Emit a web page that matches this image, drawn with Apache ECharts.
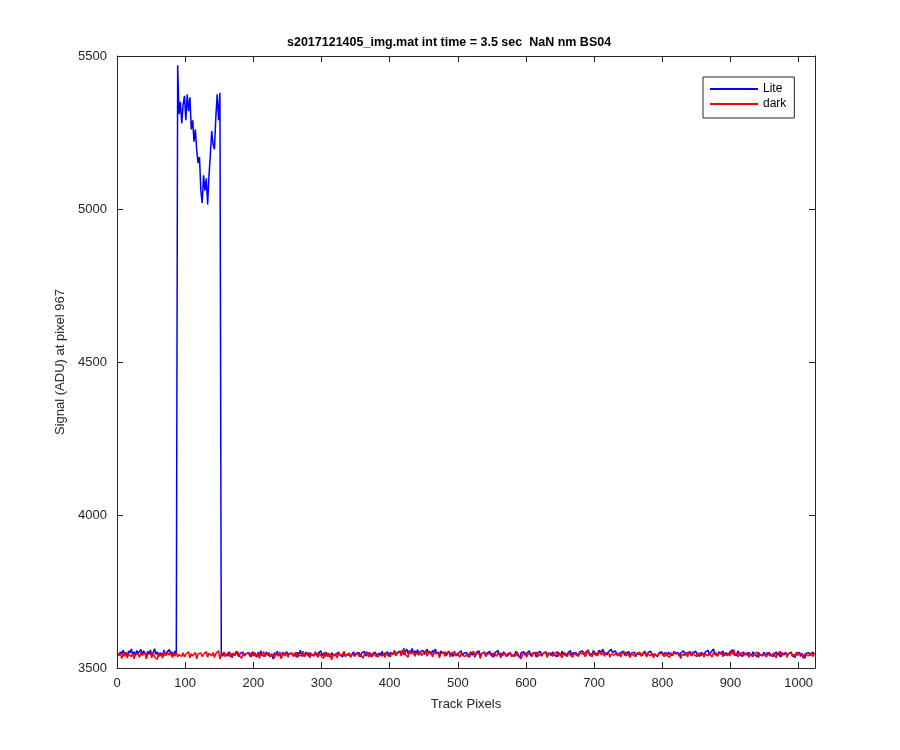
<!DOCTYPE html>
<html><head><meta charset="utf-8">
<script src="https://cdn.jsdelivr.net/npm/echarts@6/dist/echarts.min.js"></script>
<style>html,body{margin:0;padding:0;background:#fff}#c{width:900px;height:750px}</style>
</head><body><div id="c"></div><script>
const titleText = 's2017121405_img.mat int time = 3.5 sec  NaN nm BS04';
const xAxisName = 'Track Pixels';
const yAxisName = 'Signal (ADU) at pixel 967';
const seriesNames = ['Lite', 'dark'];
const firstPixel = 1, pixelStep = 2;
const xTicks = [0, 100, 200, 300, 400, 500, 600, 700, 800, 900, 1000];
const yTicks = [3500, 4000, 4500, 5000, 5500];

const lite = [
3548,3541,3553,3546,3558,3544,3551,3539,3556,3549,3562,3545,3553,3540,3557,3548,
3552,3561,3543,3556,3547,3538,3554,3546,3559,3542,3550,3563,3545,3553,3537,3549,
3555,3544,3558,3541,3551,3547,3560,3543,3552,3539,3556,3548,5470,5310,5350,5280,
5340,5370,5290,5375,5320,5365,5260,5290,5220,5260,5190,5150,5170,5060,5020,5110,
5060,5100,5015,5110,5180,5255,5210,5195,5300,5375,5290,5380,3547,3538,3552,3543,
3549,3540,3553,3536,3546,3551,3541,3555,3544,3537,3549,3543,3552,3539,3547,3541,
3550,3538,3545,3553,3540,3548,3535,3551,3543,3556,3541,3547,3538,3552,3544,3549,
3537,3546,3529,3550,3542,3555,3540,3547,3534,3552,3545,3539,3553,3546,3541,3548,
3554,3540,3549,3536,3551,3544,3558,3541,3547,3539,3552,3545,3538,3550,3543,3547,
3541,3553,3539,3548,3545,3556,3540,3549,3537,3551,3544,3546,3535,3550,3542,3548,
3545,3539,3552,3543,3548,3536,3554,3541,3547,3544,3550,3538,3546,3553,3540,3548,
3543,3551,3537,3549,3545,3554,3539,3547,3542,3550,3536,3548,3544,3552,3541,3546,
3549,3542,3555,3540,3548,3545,3553,3538,3551,3546,3544,3557,3541,3550,3547,3555,
3548,3559,3543,3553,3562,3546,3557,3550,3564,3545,3556,3549,3560,3543,3554,3548,
3557,3545,3552,3561,3547,3555,3543,3558,3550,3562,3546,3553,3541,3556,3549,3544,
3552,3540,3548,3555,3543,3550,3538,3547,3553,3541,3549,3545,3556,3539,3548,3543,
3551,3537,3546,3553,3542,3549,3535,3550,3544,3556,3540,3547,3543,3552,3538,3549,
3545,3554,3541,3548,3536,3551,3546,3557,3542,3549,3539,3553,3545,3550,3540,3547,
3552,3543,3549,3538,3555,3544,3547,3533,3550,3545,3553,3541,3548,3544,3556,3539,
3547,3542,3551,3536,3549,3545,3554,3540,3548,3543,3552,3538,3550,3546,3541,3553,
3544,3549,3537,3552,3546,3541,3555,3543,3550,3539,3548,3545,3557,3542,3549,3544,
3551,3546,3540,3553,3547,3556,3543,3550,3545,3559,3548,3552,3544,3557,3549,3554,
3546,3558,3551,3545,3560,3549,3555,3543,3553,3547,3561,3550,3544,3556,3548,3552,
3543,3550,3546,3555,3541,3549,3547,3553,3540,3548,3545,3552,3538,3547,3551,3544,
3549,3541,3553,3546,3539,3550,3544,3555,3542,3548,3546,3551,3537,3549,3545,3553,
3542,3550,3547,3539,3552,3545,3548,3541,3554,3546,3543,3551,3538,3549,3545,3556,
3547,3541,3550,3544,3553,3540,3548,3546,3555,3543,3549,3538,3551,3547,3544,3552,
3546,3558,3543,3551,3547,3562,3545,3549,3541,3553,3548,3544,3556,3540,3550,3546,
3543,3552,3547,3559,3544,3550,3541,3556,3546,3549,3538,3553,3545,3548,3542,3551,
3546,3540,3553,3545,3549,3537,3551,3544,3547,3541,3552,3539,3548,3545,3550,3543,
3549,3538,3546,3553,3541,3548,3536,3550,3545,3543,3551,3539,3547,3544,3552,3540,
3546,3535,3549,3543,3551,3538,3547,3553,3532,3548,3544,3550,3541,3547,3552,3545
];

const dark = [
3540,3535,3548,3531,3545,3538,3552,3533,3546,3541,3537,3549,3530,3544,3539,3547,
3534,3550,3541,3536,3553,3529,3545,3540,3548,3533,3551,3537,3543,3528,3549,3539,
3546,3532,3553,3540,3536,3549,3542,3555,3534,3547,3539,3551,3536,3544,3548,3538,
3550,3536,3545,3541,3553,3533,3547,3539,3544,3551,3530,3546,3542,3549,3537,3545,
3540,3554,3535,3548,3543,3539,3551,3534,3547,3542,3556,3529,3546,3540,3549,3536,
3544,3551,3538,3547,3533,3549,3542,3537,3553,3540,3546,3532,3550,3543,3538,3547,
3541,3549,3535,3545,3552,3538,3543,3547,3531,3548,3540,3554,3537,3545,3542,3550,
3536,3546,3541,3532,3549,3544,3538,3553,3530,3547,3543,3539,3551,3535,3546,3541,
3549,3537,3545,3552,3534,3543,3548,3539,3555,3536,3544,3541,3550,3533,3547,3542,
3538,3551,3543,3535,3548,3540,3546,3531,3552,3544,3537,3549,3541,3527,3546,3539,
3547,3533,3550,3542,3538,3545,3553,3536,3544,3540,3549,3534,3546,3551,3538,3543,
3550,3537,3544,3548,3532,3546,3541,3553,3535,3547,3543,3538,3551,3540,3545,3536,
3544,3549,3539,3546,3534,3552,3541,3547,3537,3550,3543,3556,3540,3548,3545,3553,
3539,3551,3565,3544,3548,3535,3556,3546,3541,3553,3538,3550,3547,3542,3555,3540,
3548,3543,3557,3538,3551,3545,3549,3536,3554,3546,3541,3550,3533,3547,3544,3552,
3538,3549,3543,3553,3536,3546,3541,3555,3539,3548,3544,3535,3551,3542,3547,3537,
3545,3550,3534,3548,3542,3554,3537,3546,3541,3549,3531,3547,3543,3552,3538,3545,
3540,3547,3553,3536,3549,3543,3538,3551,3544,3533,3548,3541,3550,3537,3546,3542,
3551,3536,3544,3548,3539,3553,3542,3547,3529,3545,3540,3550,3535,3546,3543,3549,
3537,3548,3542,3552,3536,3545,3550,3539,3547,3543,3554,3534,3546,3541,3549,3538,
3546,3540,3553,3537,3548,3544,3533,3551,3542,3547,3538,3555,3541,3546,3536,3550,
3543,3549,3538,3554,3545,3540,3551,3536,3547,3559,3542,3548,3537,3552,3544,3546,
3540,3553,3547,3542,3556,3538,3549,3544,3551,3535,3546,3552,3541,3548,3545,3539,
3550,3536,3546,3541,3553,3539,3548,3544,3534,3551,3542,3547,3537,3549,3543,3552,
3538,3547,3542,3555,3536,3546,3550,3540,3548,3533,3545,3551,3539,3546,3542,3549,
3544,3537,3552,3541,3547,3535,3550,3543,3539,3553,3546,3540,3548,3531,3545,3550,
3541,3548,3536,3551,3545,3539,3554,3542,3547,3537,3550,3544,3540,3549,3535,3546,
3552,3540,3547,3543,3536,3551,3545,3549,3538,3546,3542,3553,3537,3548,3544,3540,
3547,3539,3553,3545,3560,3541,3549,3536,3546,3543,3551,3538,3547,3542,3550,3535,
3543,3548,3537,3546,3541,3552,3534,3545,3549,3539,3547,3543,3536,3550,3541,3546,
3539,3550,3545,3533,3548,3542,3554,3537,3546,3540,3551,3535,3547,3543,3549,3538,
3545,3538,3552,3541,3536,3549,3544,3531,3547,3553,3540,3546,3542,3550,3537,3548
];

const toPairs = arr => arr.map((v, i) => [firstPixel + i * pixelStep, v]);
const FONT = 'Liberation Sans, Arial, Helvetica, sans-serif';
const AX = '#262626';

function boxAxis(isX, main) {
  const a = {
    type: 'value',
    min: isX ? 0 : yTicks[0],
    max: isX ? 1024 : yTicks[yTicks.length - 1],
    interval: isX ? 100 : 500,
    axisLine: { show: true, onZero: false, lineStyle: { color: AX, width: 1 } },
    axisTick: { show: true, inside: true, length: 6, lineStyle: { color: AX } },
    splitLine: { show: false },
    axisLabel: { show: main, margin: isX ? 9 : 10, color: '#262626', fontSize: 13, fontFamily: FONT,
      formatter: v => (isX ? xTicks : yTicks).includes(v) ? String(v) : '' }
  };
  if (isX) {
    a.position = main ? 'bottom' : 'top';
    if (main) {
      a.name = xAxisName; a.nameLocation = 'middle'; a.nameGap = 30;
      a.nameTextStyle = { fontSize: 13, color: '#262626', fontFamily: FONT };
    }
  } else {
    a.position = main ? 'left' : 'right';
    if (main) {
      a.name = yAxisName; a.nameLocation = 'middle'; a.nameGap = 46;
      a.nameTextStyle = { fontSize: 13, color: '#262626', fontFamily: FONT };
    }
  }
  return a;
}

const chart = echarts.init(document.getElementById('c'), null, { renderer: 'canvas' });
chart.setOption({
  animation: false,
  backgroundColor: '#fff',
  title: {
    text: titleText, left: 287, top: 36, padding: 0,
    textStyle: { fontSize: 12.5, fontWeight: 'bold', color: '#000', fontFamily: FONT }
  },
  grid: { left: 117, right: 85, top: 56, bottom: 82 },
  xAxis: [boxAxis(true, true), boxAxis(true, false)],
  yAxis: [boxAxis(false, true), boxAxis(false, false)],
  legend: {
    data: seriesNames, orient: 'vertical', left: 703, top: 77,
    icon: 'rect', itemWidth: 48, itemHeight: 2, itemGap: 3,
    padding: [6, 8, 8, 7], borderColor: AX, borderWidth: 1, backgroundColor: '#fff',
    textStyle: { fontSize: 12, color: '#000', fontFamily: FONT }
  },
  series: [
    { name: seriesNames[0], type: 'line', data: toPairs(lite), showSymbol: false,
      color: '#0000ff', lineStyle: { width: 1.5, color: '#0000ff' } },
    { name: seriesNames[1], type: 'line', data: toPairs(dark), showSymbol: false,
      color: '#ff0000', lineStyle: { width: 1.5, color: '#ff0000' } }
  ]
});
</script></body></html>
